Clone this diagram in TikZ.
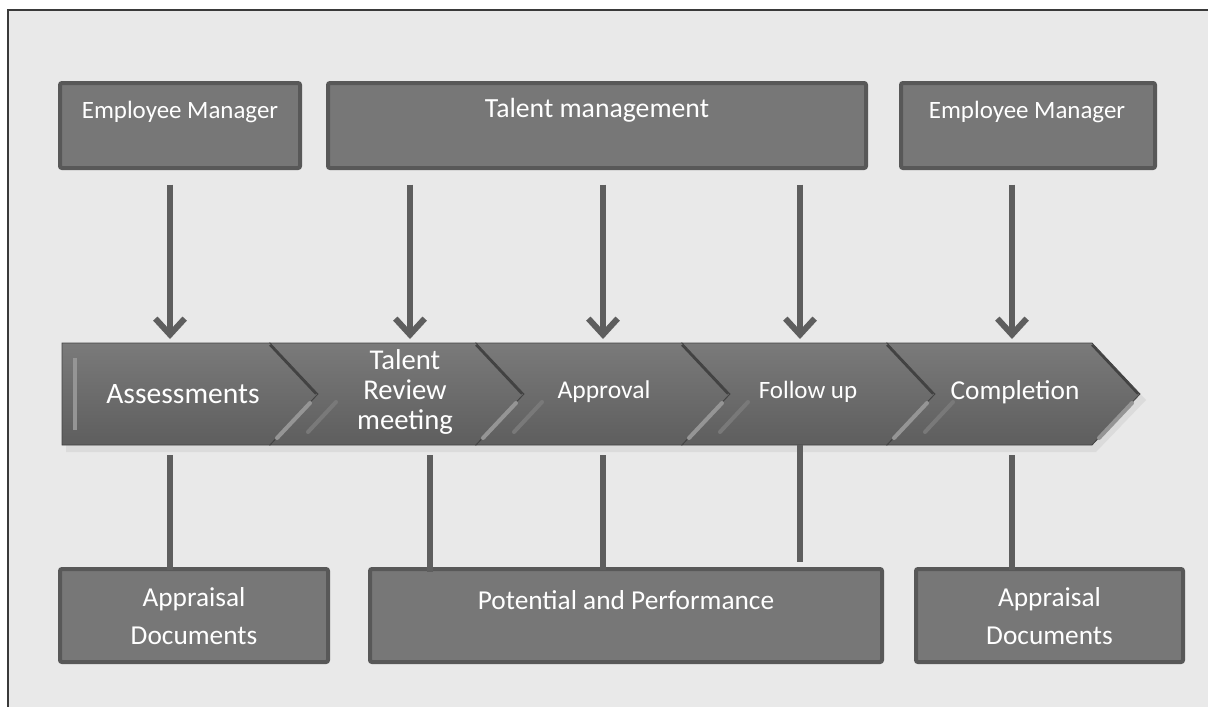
\documentclass[tikz,border=0pt]{standalone}
\usepackage{fontspec}
\setmainfont{Carlito}
\usetikzlibrary{arrows.meta,fit}
\definecolor{bg}{HTML}{E9E9E9}
\definecolor{frame}{HTML}{3A3A3A}
\definecolor{boxfill}{HTML}{777777}
\definecolor{boxline}{HTML}{585858}
\definecolor{conn}{HTML}{5E5E5E}
\definecolor{chtop}{HTML}{7A7A7A}
\definecolor{chbot}{HTML}{5E5E5E}
\definecolor{chdark}{HTML}{424242}
\definecolor{chlight}{HTML}{959595}
\begin{document}
\begin{tikzpicture}[x=0.75pt,y=-0.75pt,
  box/.style={draw=boxline, fill=boxfill, line width=3pt, rounded corners=1.5pt, inner sep=0pt},
  boxtext/.style={text=white, align=center, inner sep=0pt, font=\fontsize{20.5}{28.5}\selectfont},
  chtext/.style={text=white, align=center, inner sep=0pt},
  conn/.style={draw=conn, line width=4.5pt},
  arr/.style={conn, -{Straight Barb[length=12pt,width=22pt]}},
  chev/.style={top color=chtop, bottom color=chbot, draw=chdark, line width=0.6pt},
  hidden/.style={inner sep=0pt, outer sep=0pt}]
\useasboundingbox (0,0) rectangle (1208,707);
% frame
\fill[white] (0,0) rectangle (1208,707);
\fill[bg] (8,10) rectangle (1208,707);
\draw[frame, line width=1.5pt] (8,707) -- (8,10) -- (1208,10);

% top boxes
\node[box, fit={(60,83) (300,168)}] (em1) {};
\node[box, fit={(328,83) (866,168)}] (tm) {};
\node[box, fit={(901,83) (1155,168)}] (em2) {};
\node[boxtext, font=\fontsize{18.7}{22}\selectfont] (em1t) at (180,112) {Employee Manager};
\node[boxtext, font=\fontsize{20.8}{24}\selectfont] (tmt) at (597,110) {Talent management};
\node[boxtext, font=\fontsize{18.7}{22}\selectfont] (em2t) at (1027,112) {Employee Manager};

% bottom boxes
\node[box, fit={(60,569) (328,662)}] (ad1) {};
\node[box, fit={(370,569) (882,662)}] (pp) {};
\node[box, fit={(916,569) (1183,662)}] (ad2) {};
\node[boxtext] (ad1t) at (194,616) {Appraisal\\Documents};
\node[boxtext] (ppt) at (626,600) {Potential and Performance};
\node[boxtext] (ad2t) at (1049.5,616) {Appraisal\\Documents};

% chevron band
\fill[black!14] (66,350) -- (1096,350) -- (1146,400) -- (1096,452) -- (66,452) -- cycle;
\shade[chev] (62,343) -- (270,343) -- (318,394) -- (270,445) -- (62,445) -- cycle;
\shade[chev] (270,343) -- (476,343) -- (524,394) -- (476,445) -- (270,445) -- (318,394) -- cycle;
\shade[chev] (476,343) -- (682,343) -- (730,394) -- (682,445) -- (476,445) -- (524,394) -- cycle;
\shade[chev] (682,343) -- (887,343) -- (935,394) -- (887,445) -- (682,445) -- (730,394) -- cycle;
\shade[chev] (887,343) -- (1092,343) -- (1140,394) -- (1092,445) -- (887,445) -- (935,394) -- cycle;
\foreach \xb in {270,476,682,887,1092}{
  \draw[chdark, line width=1.6pt] (\xb,345) -- (\xb+46,394);
  \draw[chlight, line width=3pt, line cap=round] (\xb+40,403) -- (\xb+7,438);
}
\foreach \xb in {270,476,682,887}{
  \draw[chlight!50!chbot, line width=3pt, line cap=round] (\xb+66,402) -- (\xb+38,432);
}
\fill[chlight] (73,358) rectangle (77,430);
\node[hidden, fit={(62,343) (1140,445)}] (band) {};

\node[chtext, font=\fontsize{22.2}{26}\selectfont] (c1) at (183,394) {Assessments};
\node[chtext, font=\fontsize{21.5}{22.5}\selectfont] (c2) at (405,392) {Talent\\Review\\meeting};
\node[chtext, font=\fontsize{19.2}{22}\selectfont] (c3) at (604,392) {Approval};
\node[chtext, font=\fontsize{18.7}{22}\selectfont] (c4) at (808,392) {Follow up};
\node[chtext, font=\fontsize{20.5}{24}\selectfont] (c5) at (1015,392) {Completion};

% connector x positions
\coordinate (x1) at (170,0);
\coordinate (x2) at (410,0);
\coordinate (x3) at (603,0);
\coordinate (x4) at (800,0);
\coordinate (x5) at (1012,0);
\coordinate (y2) at (430,0);

% arrows down
\draw[arr] ([yshift=-11pt]em1.south -| x1) -- ([yshift=3pt]band.north -| x1);
\draw[arr] ([yshift=-11pt]tm.south -| x2) -- ([yshift=3pt]band.north -| x2);
\draw[arr] ([yshift=-11pt]tm.south -| x3) -- ([yshift=3pt]band.north -| x3);
\draw[arr] ([yshift=-11pt]tm.south -| x4) -- ([yshift=3pt]band.north -| x4);
\draw[arr] ([yshift=-11pt]em2.south -| x5) -- ([yshift=3pt]band.north -| x5);

% lines to bottom boxes
\draw[conn] ([yshift=-7.5pt]band.south -| x1) -- ([yshift=-2pt]ad1.north -| x1);
\draw[conn] ([yshift=-7.5pt]band.south -| y2) -- ([yshift=-4pt]pp.north -| y2);
\draw[conn] ([yshift=-7.5pt]band.south -| x3) -- ([yshift=-2pt]pp.north -| x3);
\draw[conn] (band.south -| x4) -- ([yshift=4pt]pp.north -| x4);
\draw[conn] ([yshift=-7.5pt]band.south -| x5) -- ([yshift=-2pt]ad2.north -| x5);
\end{tikzpicture}
\end{document}
